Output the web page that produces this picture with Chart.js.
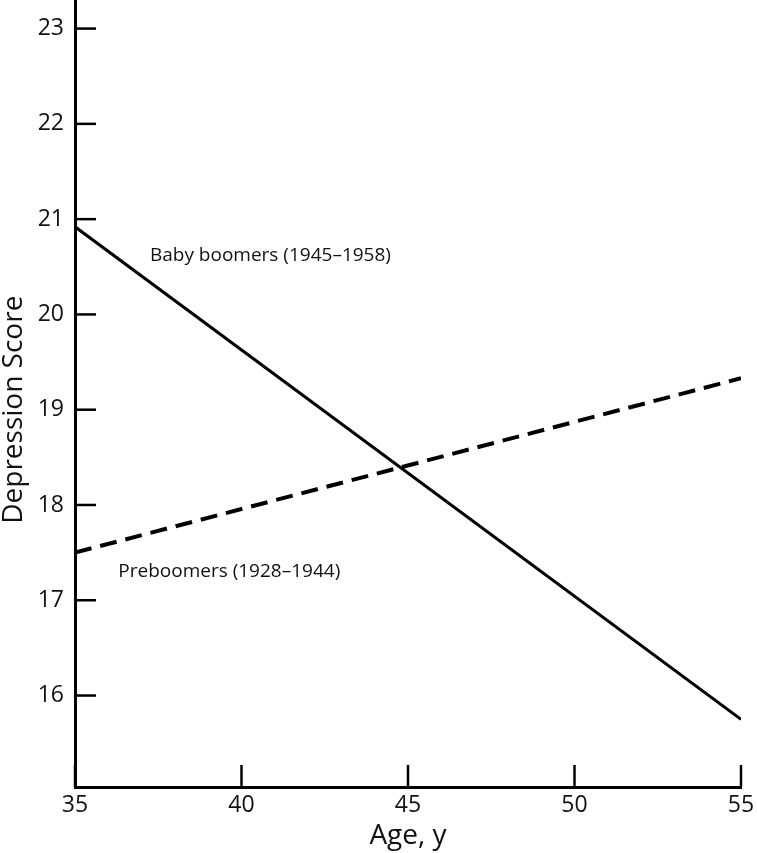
<!DOCTYPE html>
<html>
<head>
<meta charset="utf-8">
<script src="https://cdn.jsdelivr.net/npm/chart.js@4/dist/chart.umd.min.js"></script>
<style>
  html, body { margin: 0; padding: 0; background: #fff; }
  #wrap { width: 757px; height: 853px; }
</style>
</head>
<body>
<div id="wrap"><canvas id="grafik"></canvas></div>
<script>
// data dari gambar
const ages = [35, 55];
const babyBoomers = [20.92, 15.75];
const preboomers = [17.5, 19.33];
const xTicks = [35, 40, 45, 50, 55];
const yTicks = [16, 17, 18, 19, 20, 21, 22, 23];

const FONT = "'Open Sans', 'Noto Sans', sans-serif";

// tanda tick mengarah ke dalam + label garis + judul sumbu y
const inwardTicks = {
  id: "inwardTicks",
  afterDraw(chart) {
    const c = chart.ctx;
    const xs = chart.scales.x;
    const ys = chart.scales.y;
    const area = chart.chartArea;
    c.save();
    c.strokeStyle = "#000";
    c.lineWidth = 2.5;
    yTicks.forEach((v) => {
      const py = ys.getPixelForValue(v);
      c.beginPath();
      c.moveTo(area.left, py);
      c.lineTo(area.left + 21, py);
      c.stroke();
    });
    xTicks.forEach((v) => {
      const px = xs.getPixelForValue(v);
      c.beginPath();
      c.moveTo(px, area.bottom);
      c.lineTo(px, area.bottom - 22);
      c.stroke();
    });
    // label seri
    c.fillStyle = "#111";
    c.font = "19px " + FONT;
    c.textBaseline = "middle";
    c.textAlign = "left";
    c.fillText("Baby boomers (1945\u20131958)", xs.getPixelForValue(37.25), ys.getPixelForValue(20.62));
    c.fillText("Preboomers (1928\u20131944)", xs.getPixelForValue(36.3), ys.getPixelForValue(17.3));

    // judul sumbu y, sedikit di bawah tengah seperti aslinya
    c.translate(14, ys.getPixelForValue(19.0));
    c.rotate(-Math.PI / 2);
    c.font = "28px " + FONT;
    c.textAlign = "center";
    c.fillText("Depression Score", 0, 0);
    c.restore();
  },
};

const ctx = document.getElementById("grafik").getContext("2d");
new Chart(ctx, {
  type: "line",
  data: {
    datasets: [
      {
        label: "Baby boomers (1945–1958)",
        data: ages.map((a, i) => ({ x: a, y: babyBoomers[i] })),
        borderColor: "#000",
        borderWidth: 3,
        pointRadius: 0,
        fill: false,
      },
      {
        label: "Preboomers (1928–1944)",
        data: ages.map((a, i) => ({ x: a, y: preboomers[i] })),
        borderColor: "#000",
        borderWidth: 4,
        borderDash: [17, 9],
        pointRadius: 0,
        fill: false,
      },
    ],
  },
  options: {
    responsive: true,
    maintainAspectRatio: false,
    animation: false,
    layout: { padding: { top: 0, right: 16, left: 0, bottom: 0 } },
    plugins: {
      legend: { display: false },
      tooltip: { enabled: false },
    },
    scales: {
      x: {
        type: "linear",
        min: 35,
        max: 55,
        afterBuildTicks: (s) => { s.ticks = xTicks.map((v) => ({ value: v })); },
        afterFit: (s) => { s.height = 66; s.paddingLeft = 0; s.paddingRight = 0; },
        grid: { display: false, drawTicks: false },
        border: { display: true, color: "#000", width: 3 },
        ticks: {
          color: "#111",
          padding: 5,
          font: { family: FONT, size: 23 },
          maxRotation: 0,
        },
        title: {
          display: true,
          text: "Age, y",
          color: "#111",
          padding: { top: 0, bottom: 0 },
          font: { family: FONT, size: 28 },
        },
      },
      y: {
        min: 15.04,
        max: 23.3,
        afterBuildTicks: (s) => { s.ticks = yTicks.map((v) => ({ value: v })); },
        afterFit: (s) => { s.width = 75; s.paddingTop = 0; s.paddingBottom = 0; },
        grid: { display: false, drawTicks: false },
        border: { display: true, color: "#000", width: 3 },
        ticks: {
          color: "#111",
          padding: 11,
          font: { family: FONT, size: 23 },
        },
        title: { display: false },
      },
    },
  },
  plugins: [inwardTicks],
});
</script>
</body>
</html>
